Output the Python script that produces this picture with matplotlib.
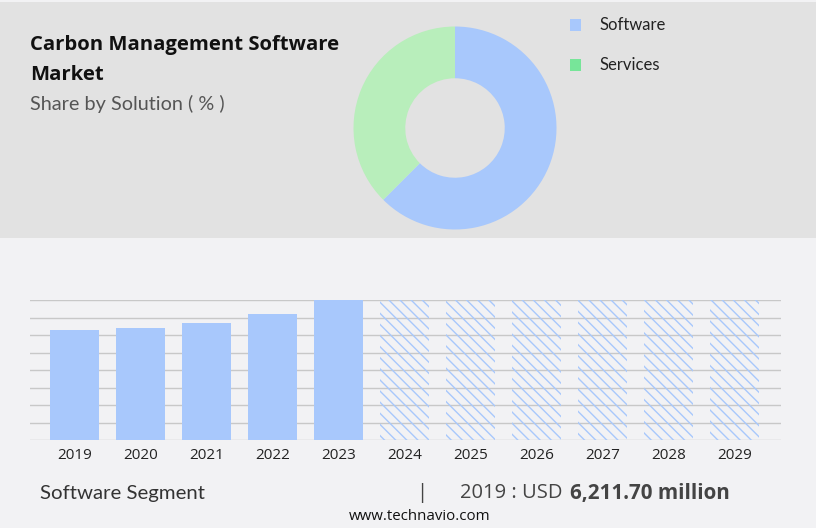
import matplotlib.pyplot as plt
from matplotlib.patches import Rectangle
import numpy as np

# data
segments = ['Software', 'Services']
shares = [62.5, 37.5]
years = ['2019', '2020', '2021', '2022', '2023', '2024', '2025', '2026', '2027', '2028', '2029']
history = [6211.7, 6325, 6607, 7115, 7906]
forecast = [7906, 7906, 7906, 7906, 7906, 7906]

blue = '#a8c8fc'
green_pie = '#b8eebb'
green_leg = '#77e599'

W, H = 816, 528
fig = plt.figure(figsize=(W / 100, H / 100), dpi=100)
fig.patch.set_facecolor('#f2f2f4')


def fx(x):
    return x / W


def fy(y):
    return 1 - y / H


# top gray panel
fig.patches.append(Rectangle((0, fy(238)), 1, (238 - 2) / H,
                             transform=fig.transFigure, facecolor='#e2e2e2',
                             edgecolor='none', zorder=-5))

# titles
fig.text(fx(30), fy(50), 'Carbon Management Software', fontsize=14.6, fontweight='bold',
         family='Open Sans', color='#111111', va='baseline')
fig.text(fx(30), fy(80), 'Market', fontsize=14.6, fontweight='bold',
         family='Open Sans', color='#111111', va='baseline')
fig.text(fx(30), fy(110), 'Share by Solution ( % )', fontsize=14.3,
         family='Lato', color='#555555', va='baseline')

# donut (bottom edge slightly clipped like the original)
r = 101.5
ax_pie = fig.add_axes([fx(455 - r), fy(228), 2 * r / W, (228 - 128 + r) / H])
ax_pie.pie(shares, colors=[blue, green_pie], startangle=90, counterclock=False,
           wedgeprops=dict(width=0.51, linewidth=0))
ax_pie.set_aspect('auto')
ax_pie.set_xlim(-1, 1)
ax_pie.set_ylim(-(228 - 128) / r, 1)

# legend
leg_colors = [blue, green_leg]
for i, (name, c) in enumerate(zip(segments, leg_colors)):
    yc = 25 + 40 * i
    fig.patches.append(Rectangle((fx(570), fy(yc + 5.5)), 11 / W, 11 / H,
                                 transform=fig.transFigure, facecolor=c,
                                 edgecolor='none'))
    fig.text(fx(600), fy(yc), name, fontsize=12, family='Lato',
             color='#222222', va='center')

# bars
plt.rcParams['hatch.linewidth'] = 1.0
ax = fig.add_axes([fx(30), fy(440), 751 / W, 140 / H])
ax.set_facecolor('none')
ymax = max(history)
x_hist = np.arange(len(history))
x_fc = np.arange(len(history), len(years))
ax.set_yticks(np.linspace(0, ymax, 9))
ax.grid(axis='y', color='#c8c8c8', linewidth=1)
ax.set_axisbelow(True)
ax.bar(x_hist, history, width=0.74, color=blue, zorder=2)
ax.bar(x_fc, forecast, width=0.74, color='none', edgecolor=blue,
       hatch='\\\\\\', linewidth=0, zorder=2)
ax.set_xlim(-0.674, 10.705)
ax.set_ylim(0, ymax)
ax.set_xticks(np.arange(len(years)))
ax.set_xticklabels(years, fontsize=11, family='Open Sans', color='#222222')
ax.tick_params(axis='x', length=0, pad=6)
ax.tick_params(axis='y', length=0, labelleft=False)
for s in ax.spines.values():
    s.set_visible(False)

# footer
fig.text(fx(40), fy(493), 'Software Segment', fontsize=14.7, family='Lato',
         color='#333333', va='center')
fig.text(fx(422), fy(493), '|', fontsize=14.5, family='Open Sans',
         color='#444444', va='center', ha='center')
fig.text(fx(563), fy(493), '2019 : USD', fontsize=14.5, family='Open Sans',
         color='#444444', va='center', ha='right')
fig.text(fx(570), fy(493), '6,211.70 million', fontsize=14.9, fontweight='bold',
         family='Open Sans', color='#444444', va='center', ha='left')
fig.text(fx(420), fy(517), 'www.technavio.com', fontsize=10.8, family='Open Sans',
         color='#111111', va='center', ha='center')

fig.savefig('out.png', dpi=100, facecolor=fig.get_facecolor())
